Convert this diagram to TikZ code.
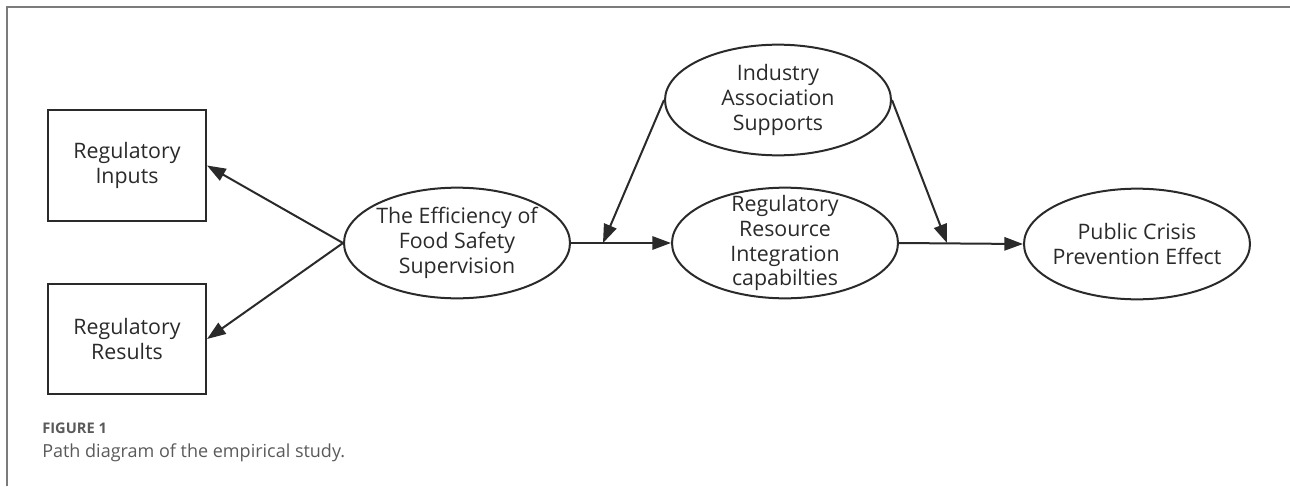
\documentclass[tikz,border=0pt]{standalone}
\usepackage{fontspec}
\setmainfont{Open Sans}
\usepackage{tikz}
\usetikzlibrary{positioning,shapes.geometric,arrows.meta}
\definecolor{ink}{HTML}{2A2A2A}
\definecolor{capgray}{HTML}{5A5A5A}
\tikzset{>={Triangle[length=14pt,width=10pt]}}
\tikzset{
  box/.style={draw=ink,line width=1.6pt,minimum width=118.5pt,minimum height=83pt,inner sep=0pt},
  oval/.style={draw=ink,line width=1.5pt,ellipse,minimum width=169.5pt,minimum height=83pt,inner sep=0pt},
  txt/.style={align=center,text=ink,font=\fontsize{16}{18.7}\selectfont,inner sep=0pt},
  path/.style={->,draw=ink,line width=1.5pt}
}

\begin{document}
\begin{tikzpicture}[x=0.75pt,y=-0.75pt]
\useasboundingbox (0,0) rectangle (1290,486);
% Frame at top and left
\draw[capgray!80,line width=0.8pt] (7,486) -- (7,7) -- (1290,7);
% Indicator boxes
\node[box] (inp) at (127,165.5) {};
\node[txt] (inptxt) at (inp) {Regulatory\\Inputs};
\node[box] (out) at (127,339) {};
\node[txt] (outtxt) at (out) {Regulatory\\Results};
% Latent variables
\node[oval] (eff) at (457,243) {};
\node[txt] (efftxt) at (eff) {The Efficiency of\\Food Safety\\Supervision};
\node[oval] (ind) at (778,100) {};
\node[txt] (indtxt) at (ind) {Industry\\Association\\Supports};
\node[oval] (res) at (785,243) {};
\node[txt] (restxt) at (res) {Regulatory\\Resource\\Integration\\capabilties};
\node[oval] (pub) at (1137,244) {};
\node[txt] (pubtxt) at (pub) {Public Crisis\\Prevention Effect};
% Points where the moderator meets the paths
\coordinate (m1) at (603,243);
\coordinate (m2) at (947,243);
% Paths
\draw[path] (eff.west) -- (inp.east);
\draw[path] (eff.west) -- (out.east);
\draw[path] (eff.east) -- (res.west);
\draw[path] (res.east) -- (pub.west);
\draw[path] (ind.west) -- (m1);
\draw[path] (ind.east) -- (m2);
% Caption
\node[anchor=base west,inner sep=0pt,text=capgray,font=\fontsize{11}{12}\selectfont\bfseries] (fig) at (42,433) {FIGURE 1};
\node[anchor=base west,inner sep=0pt,text=capgray,font=\fontsize{13.5}{15}\selectfont] (cap) at (42,457) {Path diagram of the empirical study.};
\end{tikzpicture}
\end{document}
